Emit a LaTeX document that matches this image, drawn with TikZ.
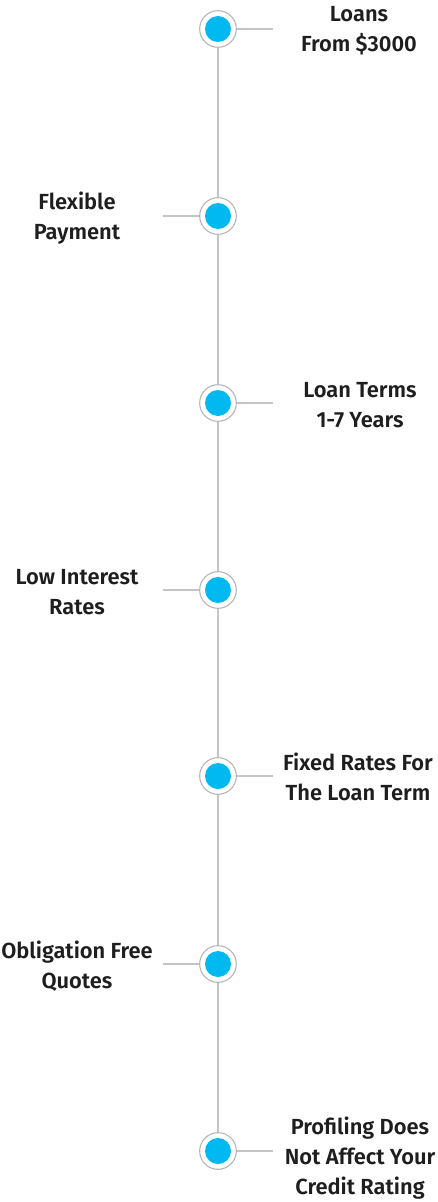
\documentclass[tikz,border=0pt]{standalone}
\usepackage{fontspec}
\setmainfont{Fira Sans}[BoldFont={Fira Sans SemiBold}]
\definecolor{dotblue}{HTML}{00B9F1}
\definecolor{linegray}{HTML}{C4C4C4}
\definecolor{ringgray}{HTML}{B4B4B4}
\definecolor{textdark}{HTML}{1E1E1E}
\tikzset{
  ring/.style={circle, draw=ringgray, fill=white, line width=0.8pt, minimum size=27.5pt, inner sep=0pt},
  dot/.style={circle, fill=dotblue, minimum size=19.5pt, inner sep=0pt},
  stub/.style={draw=linegray, line width=0.9pt},
  caption/.style={align=center, text=textdark, font=\bfseries\fontsize{16.4}{22.5}\selectfont},
}
\begin{document}
\begin{tikzpicture}[x=0.75pt, y=-0.75pt]
    \useasboundingbox (0,0) rectangle (437,1202);

    % markers
    \node[ring] (r1) at (218,29) {};
    \node[ring] (r2) at (218,216) {};
    \node[ring] (r3) at (218,403) {};
    \node[ring] (r4) at (218,590) {};
    \node[ring] (r5) at (218,776) {};
    \node[ring] (r6) at (218,964) {};
    \node[ring] (r7) at (218,1151) {};
    \foreach \i in {1,...,7} {
        \node[dot] (d\i) at (r\i) {};
    }

    % main line
    \draw[stub] (r1) -- (r2);
    \draw[stub] (r2) -- (r3);
    \draw[stub] (r3) -- (r4);
    \draw[stub] (r4) -- (r5);
    \draw[stub] (r5) -- (r6);
    \draw[stub] (r6) -- (r7);

    % stub ends
    \coordinate (e1) at (273,29);
    \coordinate (e2) at (163,216);
    \coordinate (e3) at (273,403);
    \coordinate (e4) at (163,590);
    \coordinate (e5) at (273,776);
    \coordinate (e6) at (163,964);
    \coordinate (e7) at (273,1151);
    \draw[stub] (r1) -- (e1);
    \draw[stub] (r2) -- (e2);
    \draw[stub] (r3) -- (e3);
    \draw[stub] (r4) -- (e4);
    \draw[stub] (r5) -- (e5);
    \draw[stub] (r6) -- (e6);
    \draw[stub] (r7) -- (e7);

    % labels
    \node[caption] (t1) at (359,31) {Loans\\From \$3000};
    \node[caption] (t2) at (77,218) {Flexible\\Payment};
    \node[caption] (t3) at (360,405) {Loan Terms\\1-7 Years};
    \node[caption] (t4) at (77,592) {Low Interest\\Rates};
    \node[caption] (t5) at (358,777) {Fixed Rates For\\The Loan Term};
    \node[caption] (t6) at (77,966) {Obligation Free\\Quotes};
    \node[caption] (t7) at (360,1158) {Profiling Does\\Not Affect Your\\Credit Rating};
\end{tikzpicture}
\end{document}
